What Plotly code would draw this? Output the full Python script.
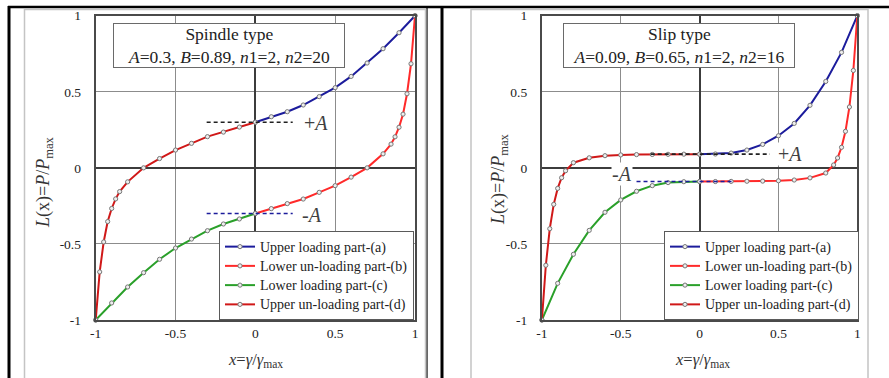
import plotly.graph_objects as go

W, H = 889, 378

# ---------------- data ----------------
# Spindle type  (A=0.3, B=0.89, n1=2, n2=20)
sp_a_x = [0, 0.1, 0.2, 0.3, 0.4, 0.5, 0.6, 0.7, 0.8, 0.9, 1.0]
sp_a_y = [0.30, 0.336, 0.369, 0.413, 0.468, 0.527, 0.601, 0.689, 0.783, 0.888, 1.0]
sp_b_x = [0, 0.1, 0.2, 0.3, 0.4, 0.5, 0.6, 0.7, 0.8, 0.85, 0.875, 0.9, 0.925, 0.95, 0.975, 1.0]
sp_b_y = [-0.30, -0.268, -0.235, -0.205, -0.161, -0.117, -0.061, 0.0, 0.092, 0.156, 0.204, 0.267, 0.353, 0.487, 0.684, 1.0]
sp_c_x = [-1.0, -0.9, -0.8, -0.7, -0.6, -0.5, -0.4, -0.3, -0.2, -0.1, 0]
sp_c_y = [-1.0, -0.888, -0.783, -0.689, -0.601, -0.527, -0.468, -0.413, -0.369, -0.336, -0.30]
sp_d_x = [0, -0.1, -0.2, -0.3, -0.4, -0.5, -0.6, -0.7, -0.8, -0.85, -0.875, -0.9, -0.925, -0.95, -0.975, -1.0]
sp_d_y = [0.30, 0.268, 0.235, 0.205, 0.161, 0.117, 0.061, 0.0, -0.092, -0.156, -0.204, -0.267, -0.353, -0.487, -0.684, -1.0]
sp_A = 0.3
sp_dash_x = [-0.305, 0.234]

# Slip type  (A=0.09, B=0.65, n1=2, n2=16)
sl_a_x = [0, 0.1, 0.2, 0.3, 0.4, 0.5, 0.6, 0.7, 0.8, 0.9, 1.0]
sl_a_y = [0.09, 0.091, 0.097, 0.117, 0.154, 0.211, 0.292, 0.411, 0.568, 0.759, 1.0]
sl_b_x = [0, 0.1, 0.2, 0.3, 0.4, 0.5, 0.6, 0.7, 0.8, 0.85, 0.875, 0.9, 0.925, 0.95, 0.975, 1.0]
sl_b_y = [-0.09, -0.09, -0.089, -0.088, -0.087, -0.085, -0.08, -0.066, -0.034, 0.019, 0.065, 0.135, 0.24, 0.40, 0.64, 1.0]
sl_c_x = [-1.0, -0.9, -0.8, -0.7, -0.6, -0.5, -0.4, -0.3, -0.2, -0.1, 0]
sl_c_y = [-1.0, -0.759, -0.568, -0.411, -0.292, -0.211, -0.154, -0.117, -0.097, -0.091, -0.09]
sl_d_x = [0, -0.1, -0.2, -0.3, -0.4, -0.5, -0.6, -0.7, -0.8, -0.85, -0.875, -0.9, -0.925, -0.95, -0.975, -1.0]
sl_d_y = [0.09, 0.09, 0.089, 0.088, 0.087, 0.085, 0.08, 0.066, 0.034, -0.019, -0.065, -0.135, -0.24, -0.40, -0.64, -1.0]
sl_A = 0.09
sl_dash_up_x = [-0.31, 0.446]
sl_dash_lo_x = [-0.40, 0.21]

series_names = ["Upper loading part-(a)", "Lower un-loading part-(b)",
                "Lower loading part-(c)", "Upper un-loading part-(d)"]
series_colors = ["#1c1c9c", "#ff2a2a", "#2aa02a", "#d01818"]

tick_vals = [-1, -0.5, 0, 0.5, 1]
tick_text = ["-1", "-0.5", "0", "0.5", "1"]

FONT = "Liberation Serif"

# ---------------- figure ----------------
fig = go.Figure()

def px_x(p):
    return p / W

def px_y(p):
    return 1 - p / H

panels = [
    dict(xa="x", ya="y", leg="legend",
         curves=[(sp_a_x, sp_a_y), (sp_b_x, sp_b_y), (sp_c_x, sp_c_y), (sp_d_x, sp_d_y)],
         dashes=[(sp_dash_x, sp_A, "#202020"), (sp_dash_x, -sp_A, "#1c1c9c")]),
    dict(xa="x2", ya="y2", leg="legend2",
         curves=[(sl_a_x, sl_a_y), (sl_b_x, sl_b_y), (sl_c_x, sl_c_y), (sl_d_x, sl_d_y)],
         dashes=[(sl_dash_up_x, sl_A, "#202020"), (sl_dash_lo_x, -sl_A, "#1c1c9c")]),
]

for p in panels:
    for (cx, cy), name, col in zip(p["curves"], series_names, series_colors):
        fig.add_trace(go.Scatter(
            x=cx, y=cy, mode="lines+markers",
            name="<span style='font-size:14px'>" + name + "</span>",
            line=dict(color=col, width=2),
            marker=dict(symbol="circle", size=4.2, color="#eeeeee",
                        line=dict(color="#777777", width=1)),
            xaxis=p["xa"], yaxis=p["ya"], legend=p["leg"], cliponaxis=False))
    for dx, dy, col in p["dashes"]:
        fig.add_trace(go.Scatter(
            x=dx, y=[dy, dy], mode="lines", showlegend=False,
            line=dict(color=col, width=1.6, dash="4px,3px"),
            xaxis=p["xa"], yaxis=p["ya"], hoverinfo="skip"))

ydom = [1 - 320 / H, 1 - 15.7 / H]
axis_common = dict(range=[-1, 1], tickvals=tick_vals, ticktext=tick_text,
                   automargin=False,
                   showgrid=True, gridcolor="#8c8c8c", gridwidth=1,
                   zeroline=True, zerolinecolor="#3c3c3c", zerolinewidth=2,
                   showline=True, linecolor="#4a4a4a", linewidth=2, mirror=True,
                   tickfont=dict(family=FONT, size=13.5, color="#222"))

fig.update_layout(
    width=W, height=H, margin=dict(l=0, r=0, t=0, b=0, pad=0, autoexpand=False),
    paper_bgcolor="white", plot_bgcolor="white",
    font=dict(family=FONT, color="#222"),
    xaxis=dict(domain=[95.7 / W, 415 / W], anchor="y", ticks="", **axis_common),
    yaxis=dict(domain=ydom, anchor="x", ticks="outside", ticklen=10,
               tickcolor="rgba(0,0,0,0)", **axis_common),
    xaxis2=dict(domain=[541.9 / W, 857.3 / W], anchor="y2", ticks="", **axis_common),
    yaxis2=dict(domain=ydom, anchor="x2", ticks="outside", ticklen=10,
                tickcolor="rgba(0,0,0,0)", **axis_common),
    legend=dict(x=px_x(219), y=px_y(231), xanchor="left", yanchor="top",
                bgcolor="white", bordercolor="#5a5a5a", borderwidth=1,
                font=dict(family=FONT, size=12.5, color="#222"), tracegroupgap=0),
    legend2=dict(x=px_x(664), y=px_y(231), xanchor="left", yanchor="top",
                 bgcolor="white", bordercolor="#5a5a5a", borderwidth=1,
                 font=dict(family=FONT, size=12.5, color="#222"), tracegroupgap=0),
    showlegend=True,
)

ann = []
# title boxes
for cx, t1, t2 in [(229, "Spindle type", "<i>A</i>=0.3, <i>B</i>=0.89, <i>n</i>1=2, <i>n</i>2=20"),
                   (678.5, "Slip type", "<i>A</i>=0.09, <i>B</i>=0.65, <i>n</i>1=2, <i>n</i>2=16")]:
    ann.append(dict(xref="paper", yref="paper", x=px_x(cx), y=px_y(46),
                    xanchor="center", yanchor="middle", showarrow=False,
                    text=t1 + "<br>" + t2, align="center",
                    font=dict(family=FONT, size=17.5, color="#222"),
                    bgcolor="white", bordercolor="#6a6a6a", borderwidth=1,
                    borderpad=1, width=228, height=41))
# +A / -A labels
for cx, cy, t in [(316, 123, "+<i>A</i>"), (312, 215, "-<i>A</i>"),
                  (790, 154, "+<i>A</i>"), (622, 174, "-<i>A</i>")]:
    ann.append(dict(xref="paper", yref="paper", x=px_x(cx), y=px_y(cy),
                    xanchor="center", yanchor="middle", showarrow=False, text=t,
                    font=dict(family=FONT, size=20, color="#404040"),
                    bgcolor="white", borderpad=0))
# axis titles
for cx, cy in [(45, 182), (500, 179)]:
    ann.append(dict(xref="paper", yref="paper", x=px_x(cx), y=px_y(cy),
                    xanchor="center", yanchor="middle", showarrow=False, textangle=-90,
                    text="<i>L</i>(x)=<i>P</i>/<i>P</i><sub>max</sub>",
                    font=dict(family=FONT, size=18, color="#333")))
for cx in [255, 702.5]:
    ann.append(dict(xref="paper", yref="paper", x=px_x(cx), y=px_y(360),
                    xanchor="center", yanchor="middle", showarrow=False,
                    text="<i>x</i>=<i>γ</i>/<i>γ</i><sub>max</sub>",
                    font=dict(family=FONT, size=16.5, color="#333")))
fig.update_layout(annotations=ann)

shapes = []
# table frame lines (all kept inside the paper)
shapes.append(dict(type="line", xref="paper", yref="paper", x0=px_x(8), x1=1,
                   y0=px_y(7), y1=px_y(7), line=dict(color="black", width=2.5), layer="below"))
shapes.append(dict(type="line", xref="paper", yref="paper", x0=px_x(9), x1=px_x(9),
                   y0=px_y(6), y1=0, line=dict(color="black", width=3), layer="below"))
shapes.append(dict(type="line", xref="paper", yref="paper", x0=px_x(427), x1=px_x(427),
                   y0=px_y(6), y1=0, line=dict(color="black", width=1.2), layer="below"))
shapes.append(dict(type="line", xref="paper", yref="paper", x0=px_x(442), x1=px_x(442),
                   y0=px_y(6), y1=0, line=dict(color="black", width=3), layer="below"))
# chart-area frames (open at the bottom)
for x0, x1 in [(24.5, 425.5), (471, 868)]:
    a, b, t = px_x(x0), px_x(x1), px_y(9.5)
    shapes.append(dict(type="path", xref="paper", yref="paper",
                       path=f"M {a},0 L {a},{t} L {b},{t} L {b},0",
                       line=dict(color="#c4c4c4", width=1.5), layer="below"))
fig.update_layout(shapes=shapes)

post = ("document.documentElement.style.margin='0px';"
        "document.body.style.margin='0px';"
        "document.documentElement.style.overflow='hidden';"
        "document.body.style.overflow='hidden';"
        "var d=document.getElementsByClassName('plotly-graph-div')[0];"
        "d.style.position='absolute';d.style.left='0px';d.style.top='0px';")

fig.write_html("out.html", config={"displayModeBar": False}, post_script=post)
